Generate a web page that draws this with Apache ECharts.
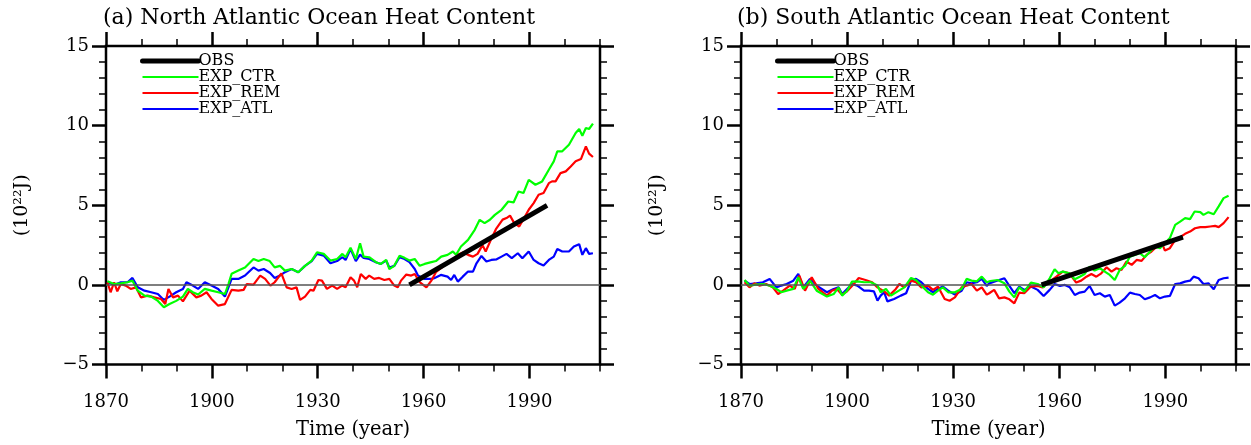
<!DOCTYPE html>
<html>
<head>
<meta charset="utf-8">
<script src="https://cdn.jsdelivr.net/npm/echarts@6/dist/echarts.min.js"></script>
<style>
html,body{margin:0;padding:0;background:#fff;}
#main{width:1251px;height:445px;}
</style>
</head>
<body>
<div id="main"></div>
<script>
// ---------- data ----------
const panelTitles = ['(a) North Atlantic Ocean Heat Content', '(b) South Atlantic Ocean Heat Content'];
const seriesNames = ['OBS', 'EXP_CTR', 'EXP_REM', 'EXP_ATL'];
const xMajorTicks = [1870, 1900, 1930, 1960, 1990];
const xMinorTicks = [1880, 1890, 1910, 1920, 1940, 1950, 1970, 1980, 2000, 2010];
const yTicks = [-5, 0, 5, 10, 15];

// North Atlantic
const naOBS = [[1956, 0], [1995, 5]];
const naCTR = [[1870.4,0.23],[1872.3,0.06],[1874.2,0.1],[1876.1,0.17],[1877.5,0.27],[1879,-0.36],[1880.9,-0.67],[1882.8,-0.73],[1884.7,-1.0],[1886.4,-1.4],[1888,-1.2],[1889.9,-1.0],[1891.8,-0.73],[1893.2,-0.25],[1894.6,-0.46],[1896.1,-0.6],[1898,-0.25],[1899.9,-0.36],[1901.8,-0.46],[1903.7,-0.57],[1904.7,0.06],[1905.6,0.7],[1907.5,0.9],[1909.4,1.1],[1911.8,1.63],[1913.2,1.5],[1914.7,1.63],[1916.4,1.5],[1917.8,1.1],[1919.3,1.2],[1920.7,0.9],[1922.6,1.0],[1924.5,0.8],[1926.4,1.2],[1928.3,1.53],[1929.8,2.05],[1931.7,1.95],[1933.6,1.53],[1935.5,1.63],[1937,1.95],[1937.9,1.74],[1939.3,2.33],[1940.8,1.63],[1942,2.62],[1943,1.78],[1944.6,1.74],[1946.5,1.43],[1947.9,1.32],[1949.4,1.57],[1950.3,1.0],[1951.7,1.2],[1953.2,1.84],[1954.6,1.7],[1956,1.53],[1957.5,1.63],[1958.9,1.2],[1960.3,1.32],[1962.2,1.43],[1963.5,1.5],[1965,1.78],[1966.8,1.89],[1968.3,2.1],[1969.2,1.89],[1970.6,2.41],[1972.6,2.83],[1974.5,3.46],[1975.9,4.09],[1977.3,3.88],[1978.8,4.09],[1980.2,4.4],[1982.1,4.72],[1984,5.24],[1985.5,5.18],[1986.9,5.87],[1988.3,5.77],[1989.8,6.6],[1991.7,6.29],[1993.6,6.5],[1995.5,7.23],[1996.9,7.76],[1997.9,8.39],[1999.3,8.39],[2001.2,8.8],[2003.1,9.54],[2004.1,9.79],[2005,9.37],[2006,9.85],[2006.9,9.79],[2008,10.13]];
const naREM = [[1870.4,0.17],[1871.3,-0.46],[1872.3,0.17],[1873.2,-0.4],[1874.2,0.06],[1875.6,-0.04],[1877,-0.25],[1878.5,-0.15],[1879.9,-0.78],[1881.8,-0.67],[1883.7,-0.78],[1885.6,-0.88],[1886.8,-1.2],[1887.7,-0.25],[1889,-0.78],[1890.4,-0.67],[1891.8,-1.03],[1893.7,-0.36],[1895.6,-0.78],[1897,-0.67],[1898.5,-0.46],[1899.9,-0.88],[1901.8,-1.3],[1903.7,-1.2],[1905.6,-0.31],[1907.5,-0.36],[1909,-0.31],[1909.9,0.06],[1911.8,0.02],[1913.7,0.59],[1915.1,0.38],[1916.6,-0.04],[1917.8,0.17],[1919.7,0.73],[1921.2,-0.15],[1922.6,-0.25],[1924,-0.15],[1925,-0.94],[1926.4,-0.73],[1927.9,-0.31],[1928.8,-0.36],[1930.2,0.31],[1931.2,0.27],[1932.6,-0.25],[1934.1,-0.04],[1935.5,-0.25],[1936.9,-0.04],[1937.9,-0.15],[1939.3,0.48],[1940.3,0.27],[1941.2,-0.15],[1942.2,0.69],[1943.6,0.38],[1944.6,0.59],[1946,0.38],[1947.4,0.44],[1948.9,0.31],[1950.3,0.38],[1951.7,-0.04],[1952.7,-0.15],[1953.6,0.27],[1955.1,0.65],[1956.5,0.59],[1957.5,0.69],[1958.9,0.17],[1960.8,-0.15],[1962.2,0.27],[1963.5,0.8],[1964.9,1.05],[1966.8,1.36],[1968.3,1.57],[1969.7,1.89],[1971.1,2.03],[1972.6,1.89],[1974,1.78],[1975.3,1.95],[1976.7,2.5],[1977.6,2.1],[1979,2.8],[1980.5,3.5],[1982.4,4.1],[1983.5,4.2],[1984.5,4.35],[1985.7,3.88],[1987.1,3.67],[1988.5,4.2],[1989.8,4.72],[1991.2,5.14],[1992.6,5.66],[1994,5.77],[1995.5,6.39],[1996.4,6.5],[1997.4,6.5],[1998.8,7.02],[2000.3,7.13],[2001.7,7.44],[2003.1,7.76],[2004.6,7.9],[2005,7.86],[2006,8.7],[2006.9,8.24],[2008,8.03]];
const naATL = [[1870.4,0.2],[1872.3,0.0],[1874.2,0.17],[1876.1,0.17],[1877.5,0.44],[1879,-0.15],[1880.9,-0.36],[1882.8,-0.46],[1884.7,-0.57],[1886.4,-0.94],[1888,-0.73],[1889.9,-0.46],[1891.8,-0.25],[1892.8,0.17],[1894.6,-0.04],[1896.1,-0.25],[1898,0.17],[1899.9,-0.04],[1901.8,-0.25],[1903.7,-0.73],[1904.7,-0.15],[1905.6,0.38],[1907.5,0.38],[1909.4,0.59],[1911.8,1.1],[1913.2,0.9],[1914.7,1.0],[1916.5,0.75],[1917.8,0.44],[1919.3,0.59],[1920.7,0.8],[1922.6,1.0],[1924.5,0.8],[1926.4,1.2],[1928.3,1.5],[1929.8,1.95],[1931.7,1.84],[1933.6,1.36],[1935.5,1.5],[1937,1.74],[1937.9,1.57],[1939.3,2.26],[1940.8,1.5],[1942,1.9],[1943,1.7],[1944.6,1.63],[1946.5,1.43],[1947.9,1.32],[1949.4,1.53],[1950.3,1.1],[1951.7,1.2],[1953.2,1.74],[1954.6,1.63],[1956,1.43],[1957.5,1.0],[1958.4,0.59],[1960.3,0.38],[1962.2,0.38],[1963,0.42],[1964.9,0.63],[1966.8,0.52],[1967.8,0.31],[1968.7,0.63],[1969.7,0.21],[1971.1,0.52],[1972.6,0.84],[1974,0.84],[1975,1.36],[1976.4,1.82],[1977.8,1.47],[1979.2,1.57],[1980.7,1.61],[1982.1,1.78],[1983.5,1.95],[1985,1.68],[1986.7,1.99],[1988,1.68],[1989.8,2.1],[1991.2,1.57],[1992.6,1.36],[1994,1.22],[1995.5,1.57],[1996.9,1.78],[1997.9,2.26],[1999.3,2.1],[2001.2,2.1],[2002.6,2.41],[2004.1,2.56],[2005,1.89],[2006,2.31],[2006.9,1.95],[2008,1.99]];

// South Atlantic
const saOBS = [[1955, 0], [1995, 3]];
const saCTR = [[1871,0.31],[1872.4,-0.04],[1874.3,0.02],[1876.2,0.06],[1878.1,-0.04],[1880,-0.25],[1881.4,-0.46],[1882.9,-0.36],[1884.8,-0.25],[1886.2,0.48],[1887.6,-0.25],[1889.5,0.27],[1891.4,-0.36],[1894.3,-0.73],[1896.2,-0.57],[1897.6,-0.15],[1898.6,-0.67],[1900,-0.36],[1901.4,0.21],[1902.9,0.23],[1904.8,0.17],[1906.7,0.17],[1908.6,-0.04],[1909.5,-0.46],[1911,-0.25],[1912.4,-0.67],[1914.3,-0.4],[1916.2,-0.15],[1918.1,0.44],[1919.5,0.31],[1921,-0.04],[1922.9,-0.46],[1924.3,-0.61],[1925.7,-0.36],[1927.1,-0.15],[1928.6,-0.46],[1930.5,-0.46],[1932.4,-0.25],[1933.8,0.38],[1935.2,0.27],[1936.7,0.23],[1938.1,0.52],[1939.5,0.17],[1940.5,0.25],[1942.6,0.31],[1944.5,0.1],[1945.9,-0.42],[1947.3,-0.78],[1948.7,-0.15],[1950.1,-0.42],[1952,0.15],[1953.9,0.06],[1955.6,-0.15],[1957.3,0.42],[1958.7,0.99],[1959.8,0.73],[1961,0.84],[1962.9,0.73],[1964.4,0.36],[1965.8,0.52],[1967.2,0.69],[1968.6,1.15],[1970,0.9],[1971.5,1.05],[1972.9,0.84],[1974.3,0.63],[1975.7,0.31],[1977.1,0.94],[1978.6,1.19],[1980,1.78],[1981.4,1.89],[1982.8,1.99],[1984.2,1.74],[1985.7,2.1],[1987.1,2.41],[1988.5,2.31],[1989.9,2.62],[1991.3,2.94],[1992.8,3.77],[1994.2,3.98],[1995.6,4.19],[1997,4.13],[1998.3,4.61],[1999.9,4.57],[2000.8,4.4],[2002.2,4.57],[2003.7,4.44],[2005.1,4.93],[2006.5,5.45],[2007.9,5.6]];
const saREM = [[1871,0.17],[1872.4,-0.15],[1873.8,0.1],[1875.2,-0.04],[1877.1,0.06],[1879,-0.15],[1880.5,-0.57],[1881.9,-0.36],[1883.8,-0.04],[1885.2,-0.25],[1886.5,0.59],[1888.1,-0.36],[1890,0.48],[1891.9,-0.25],[1894.3,-0.67],[1895.7,-0.36],[1897.1,-0.25],[1898.6,-0.61],[1900,-0.4],[1901.9,0.06],[1903.3,0.44],[1905.2,0.31],[1907.1,0.17],[1908.6,-0.15],[1910.5,-0.4],[1911.9,-0.67],[1913.8,-0.25],[1914.8,0.06],[1916.2,-0.15],[1918.1,0.27],[1919.5,0.17],[1921,-0.15],[1922.9,-0.04],[1924.3,-0.31],[1925.7,-0.1],[1927.6,-0.88],[1929,-0.99],[1930.5,-0.78],[1932.4,-0.15],[1933.8,-0.04],[1935.2,0.06],[1936.7,-0.36],[1938.1,-0.15],[1939.5,-0.61],[1940.2,-0.52],[1941.6,-0.31],[1943,-0.84],[1944.5,-0.78],[1945.9,-0.9],[1947.3,-1.15],[1948.7,-0.48],[1950.1,-0.52],[1952,-0.1],[1953.9,-0.06],[1955.3,-0.15],[1957.3,0.21],[1959.2,0.52],[1961,0.84],[1962.9,0.73],[1964.8,0.15],[1966.2,0.27],[1967.7,0.52],[1969.1,0.69],[1970.5,0.52],[1971.9,0.73],[1973.4,1.11],[1974.8,0.84],[1976.2,1.05],[1977.6,0.94],[1979,1.47],[1980.5,1.26],[1981.9,1.57],[1983.3,1.51],[1984.7,1.89],[1986.1,2.1],[1987.6,2.41],[1989,2.66],[1989.9,2.16],[1991.3,2.31],[1992.8,2.83],[1994.2,3.0],[1995.6,3.21],[1997,3.35],[1998.4,3.56],[1999.9,3.63],[2001.3,3.63],[2002.7,3.67],[2004.1,3.71],[2005.1,3.63],[2006.5,3.88],[2007.9,4.26]];
const saATL = [[1871,0.27],[1872.4,0.06],[1874.3,0.1],[1876.2,0.17],[1878.1,0.38],[1880,-0.15],[1881.4,-0.04],[1882.9,0.06],[1884.8,0.27],[1886.2,0.69],[1887.6,-0.15],[1889.5,0.38],[1891.4,-0.04],[1894.3,-0.46],[1896.2,-0.25],[1897.6,-0.15],[1898.6,-0.57],[1900,-0.25],[1901.4,0.06],[1902.9,-0.04],[1904.8,-0.36],[1906.2,-0.36],[1907.6,-0.4],[1908.6,-0.99],[1909.5,-0.67],[1910.5,-0.46],[1911.4,-1.03],[1913.3,-0.88],[1915.2,-0.67],[1916.7,-0.52],[1918.1,0.27],[1919.5,0.38],[1921,0.17],[1922.9,-0.25],[1924.3,-0.46],[1925.7,-0.25],[1927.1,-0.1],[1928.6,-0.36],[1930.5,-0.61],[1932.4,-0.36],[1933.8,0.17],[1935.2,0.1],[1936.7,0.17],[1938.1,0.38],[1939.5,-0.06],[1940.2,0.1],[1941.6,0.21],[1943,0.31],[1944.5,0.42],[1945.9,-0.06],[1947.3,-0.52],[1948.7,-0.1],[1950.1,-0.31],[1952,-0.1],[1953.9,-0.31],[1955.6,-0.69],[1957.3,-0.31],[1958.7,0.06],[1960.2,-0.06],[1961.6,0],[1963,-0.15],[1964.4,-0.63],[1965.8,-0.48],[1967.2,-0.42],[1968.6,-0.06],[1970,-0.63],[1971.5,-0.52],[1972.9,-0.73],[1974.3,-0.63],[1975.7,-1.3],[1977.1,-1.11],[1978.6,-0.84],[1980,-0.48],[1981.4,-0.57],[1982.8,-0.63],[1984.2,-0.9],[1985.7,-0.78],[1987.1,-0.63],[1988.5,-0.84],[1989.9,-0.73],[1991.3,-0.69],[1992.8,0.06],[1994.2,0.1],[1995.6,0.21],[1997,0.27],[1998,0.52],[1999.4,0.42],[2000.8,0.06],[2002.2,0.1],[2003.7,-0.27],[2005.1,0.31],[2006.5,0.42],[2007.9,0.46]];

// ---------- styling / layout ----------
const FONT = 'DejaVu Serif';
const panels = [
  {left: 106, width: 494, title: panelTitles[0], titleLeft: 103, legendLeft: 140, obs: naOBS, ctr: naCTR, rem: naREM, atl: naATL},
  {left: 741, width: 495, title: panelTitles[1], titleLeft: 737, legendLeft: 775, obs: saOBS, ctr: saCTR, rem: saREM, atl: saATL}
];
const GRID_TOP = 46, GRID_H = 318.6;
const colors = {OBS: '#000000', EXP_CTR: '#00ff00', EXP_REM: '#ff0000', EXP_ATL: '#0000ff'};

const option = {
  animation: false,
  backgroundColor: '#ffffff',
  title: [], grid: [], xAxis: [], yAxis: [], legend: [], series: []
};

const fmtMinus = v => String(v).replace('-', '\u2212');
const fmtYear = v => String(v);

panels.forEach((p, i) => {
  option.title.push({
    text: p.title, left: p.titleLeft, top: 7, padding: 0,
    textStyle: {fontFamily: FONT, fontSize: 22, fontWeight: 'normal', color: '#000'}
  });
  option.grid.push({
    left: p.left, top: GRID_TOP, width: p.width, height: GRID_H,
    show: true, borderColor: '#000', borderWidth: 2.5, backgroundColor: 'transparent'
  });
  const xBase = {
    gridIndex: i, type: 'value', min: 1870, max: 2010,
    axisLine: {show: false, onZero: false}, splitLine: {show: false}
  };
  const majorTick = {show: true, customValues: xMajorTicks, length: 14, lineStyle: {color: '#000', width: 2.5}};
  const minorTick = {show: true, customValues: xMinorTicks, length: 7, lineStyle: {color: '#000', width: 1.5}};
  option.xAxis.push(Object.assign({}, xBase, {
    position: 'bottom', axisTick: majorTick,
    axisLabel: {customValues: xMajorTicks, formatter: fmtYear, fontFamily: FONT, fontSize: 18, color: '#000', margin: 29},
    name: 'Time (year)', nameLocation: 'middle', nameGap: 55,
    nameTextStyle: {fontFamily: FONT, fontSize: 19.5, color: '#000'}
  }));
  option.xAxis.push(Object.assign({}, xBase, {position: 'bottom', axisTick: minorTick, axisLabel: {show: false}}));
  option.xAxis.push(Object.assign({}, xBase, {position: 'top', axisTick: majorTick, axisLabel: {show: false}}));
  option.xAxis.push(Object.assign({}, xBase, {position: 'top', axisTick: minorTick, axisLabel: {show: false}}));

  const yBase = {
    gridIndex: i, type: 'value', min: yTicks[0], max: yTicks[yTicks.length - 1], interval: 5,
    axisLine: {show: false, onZero: false}, splitLine: {show: false},
    axisTick: {show: true, length: 14, lineStyle: {color: '#000', width: 2.5}},
    minorTick: {show: true, splitNumber: 5, length: 7, lineStyle: {color: '#000', width: 1.5}}
  };
  option.yAxis.push(Object.assign({}, yBase, {
    position: 'left',
    axisLabel: {fontFamily: FONT, fontSize: 18, color: '#000', margin: 17, formatter: fmtMinus},
    name: '(10\u00b2\u00b2J)', nameLocation: 'middle', nameGap: 74, nameRotate: 90,
    nameTextStyle: {fontFamily: FONT, fontSize: 19, color: '#000'}
  }));
  option.yAxis.push(Object.assign({}, yBase, {position: 'right', axisLabel: {show: false}}));

  option.legend.push({
    left: p.legendLeft, top: 53, orient: 'vertical', padding: 0,
    itemWidth: 56, itemHeight: 12, itemGap: 0, selectedMode: false,
    lineStyle: {width: 'inherit'},
    itemStyle: {color: 'transparent', borderColor: 'transparent', borderWidth: 0, opacity: 0},
    textStyle: {fontFamily: FONT, fontSize: 16, color: '#000', lineHeight: 15.7, padding: [0, 0, 0, -5]},
    data: [{name: 'OBS', lineStyle: {width: 5, cap: 'round'}}, 'EXP_CTR', 'EXP_REM', 'EXP_ATL']
  });

  const xi = i * 4, yi = i * 2;
  const mk = (name, data, width, extra) => Object.assign({
    name, type: 'line', xAxisIndex: xi, yAxisIndex: yi, data,
    symbol: 'none', showSymbol: false, smooth: false,
    lineStyle: {color: colors[name], width},
    itemStyle: {color: colors[name]}
  }, extra || {});
  option.series.push(mk('EXP_ATL', p.atl, 2.2, {
    markLine: {
      silent: true, symbol: 'none', label: {show: false}, animation: false,
      lineStyle: {color: '#555', width: 1.5, type: 'solid'},
      data: [{yAxis: 0}]
    }
  }));
  option.series.push(mk('EXP_REM', p.rem, 2.2));
  option.series.push(mk('EXP_CTR', p.ctr, 2.2));
  option.series.push(mk('OBS', p.obs, 5, {z: 5}));
});

const chart = echarts.init(document.getElementById('main'), null, {renderer: 'canvas'});
chart.setOption(option);
</script>
</body>
</html>
